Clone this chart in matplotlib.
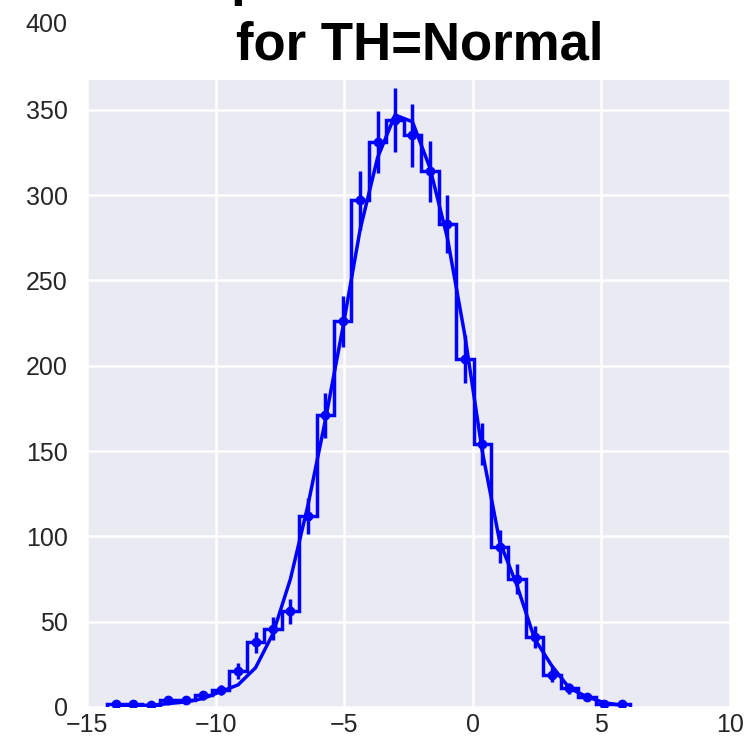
import numpy as np
import matplotlib
matplotlib.use("Agg")
import matplotlib.pyplot as plt
import matplotlib.transforms as mtransforms

# histogram counts per bin (30 bins)
counts = [2, 2, 1, 4, 4, 7, 10, 21, 38, 46, 56, 112, 171, 226, 297,
          331, 344, 335, 314, 283, 204, 154, 94, 75, 41, 19, 11, 6, 2, 2]
# fitted curve evaluated at bin centers
fit = [0.4, 0.7, 1, 2, 3, 5, 9, 13, 23, 43, 75, 118, 168, 222, 280,
       322, 347, 343, 316, 275, 218, 150, 97, 71, 40, 24, 11, 6, 2.5, 1]
x_min, x_max = -14.21, 6.13
xticks = [-15, -10, -5, 0, 5, 10]
yticks = [0, 50, 100, 150, 200, 250, 300, 350]

edges = np.linspace(x_min, x_max, len(counts) + 1)
centers = 0.5 * (edges[:-1] + edges[1:])
errors = np.sqrt(counts)

plt.rcParams['font.family'] = ['Liberation Sans', 'DejaVu Sans']

fig = plt.figure(figsize=(7.5, 7.46), dpi=100)
ax = fig.add_axes([87 / 750, 1 - 707 / 746, 643 / 750, 627 / 746])
ax.set_facecolor('#EAEAF2')
for s in ax.spines.values():
    s.set_visible(False)
ax.grid(True, color='white', linewidth=1.8)
ax.set_axisbelow(True)

ax.stairs(counts, edges, baseline=0, color='b', linewidth=2.5)
ax.errorbar(centers, counts, yerr=errors, fmt='o', color='b', ms=6,
            elinewidth=2.5, capsize=0)
ax.plot(centers, fit, color='b', linewidth=2.5)

ax.set_xlim(-15, 10)
ax.set_ylim(0, 367.5)
ax.set_xticks(xticks)
ax.set_yticks(yticks)
ax.tick_params(length=0, labelsize=18, labelcolor='#262626')
ax.tick_params(axis='x', pad=4)
ax.tick_params(axis='y', pad=14)

# the 400 label sits above the visible axes area
trans = mtransforms.blended_transform_factory(ax.transAxes, ax.transData)
ax.text(-20 / 643, 400, '400', transform=trans, ha='right', va='center',
        fontsize=18, color='#262626', clip_on=False)

# title, first line runs off the top of the figure
fig.text(420 / 750, 1 + 5 / 746, 'Empirical distribution', ha='center',
         va='baseline', fontsize=38, fontweight='bold')
fig.text(420 / 750, 1 - 60 / 746, 'for TH=Normal', ha='center',
         va='baseline', fontsize=38, fontweight='bold')

fig.savefig('out.png', dpi=100)
